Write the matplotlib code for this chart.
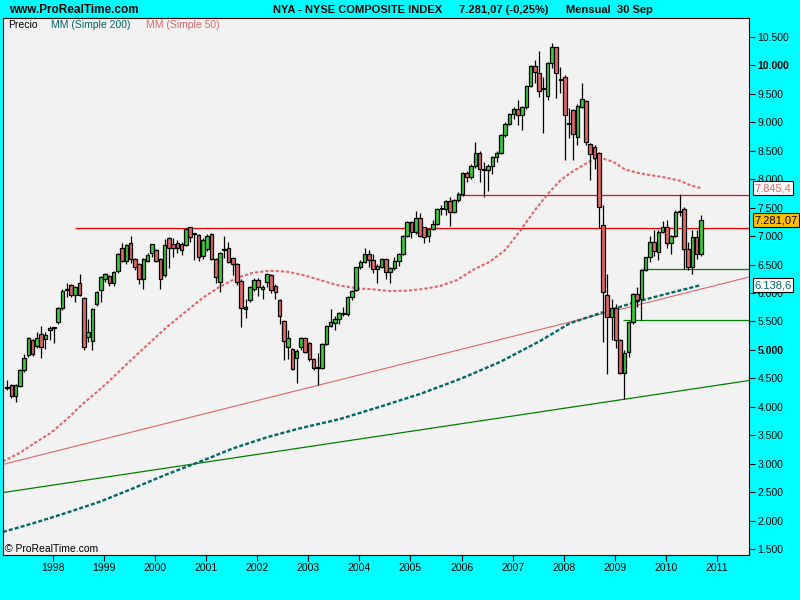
import matplotlib
matplotlib.use('Agg')
import matplotlib.pyplot as plt
import numpy as np

plt.rcParams['font.family'] = ['Liberation Sans', 'DejaVu Sans']

# monthly candles, Feb 1997 .. Sep 2010 (index 0 = Feb 1997)
start_year, start_month = 1997, 2
opens = [4325, 4377, 4196, 4360, 4641, 4905, 5174, 5075, 5274, 5186, 5344,
         5390, 5485, 5731, 6060, 6135, 5959, 6170, 5907, 5221, 5151, 5801, 6047,
         6252, 6293, 6170, 6381, 6785, 6557, 6873, 6592, 6504, 6241, 6557, 6698,
         6750, 6592, 6311, 6961, 6856, 6873, 6856, 6844, 7154, 7040, 7014, 6657,
         6768, 7031, 6598, 6199, 6760, 6785, 6610, 6504, 6211, 5713, 5877, 6065,
         6229, 6065, 6199, 6311, 6123, 5877, 5508, 5045, 5010, 4851, 5045, 5203,
         5115, 4834, 4680, 4687, 5103, 5420, 5478, 5537, 5635, 5625, 5935, 6053,
         6451, 6539, 6680, 6580, 6416, 6463, 6592, 6375, 6434, 6557, 6680, 7002,
         7242, 7066, 7312, 7154, 7002, 7125, 7207, 7470, 7476, 7617, 7418, 7629,
         7734, 8104, 8045, 8232, 8455, 8162, 8162, 8232, 8385, 8455, 8772, 8971,
         9141, 9240, 9123, 9264, 9639, 9990, 9861, 9590, 9463, 10037, 10318, 9768,
         9803, 8990, 9217, 8748, 9276, 9375, 8613, 8561, 8455, 7189, 5965, 5572,
         5730, 5174, 4588, 4957, 5484, 5976, 5888, 6404, 6627, 6890, 6715, 7078,
         7166, 6873, 7002, 7429, 7470, 6767, 6451, 6978, 6685]
highs = [4471, 4400, 4400, 4670, 4928, 5230, 5200, 5321, 5420, 5321, 5420,
         5410, 5750, 6065, 6170, 6150, 6120, 6334, 5930, 5543, 5730, 6030, 6300,
         6350, 6310, 6380, 6709, 6873, 6860, 7002, 6610, 6520, 6610, 6700, 6870,
         6780, 6610, 6944, 6980, 6960, 6940, 6900, 7137, 7160, 7060, 7040, 6960,
         7030, 7060, 6620, 6720, 7002, 6900, 6630, 6520, 6240, 5900, 6120, 6260,
         6260, 6140, 6350, 6330, 6160, 5900, 5530, 5350, 5030, 5010, 5220, 5230,
         5140, 4860, 4939, 5120, 5440, 5713, 5600, 5660, 5760, 5950, 6060, 6460,
         6580, 6785, 6760, 6680, 6510, 6620, 6610, 6460, 6630, 6700, 7020, 7260,
         7270, 7441, 7400, 7160, 7140, 7290, 7490, 7550, 7640, 7680, 7650, 7780,
         8130, 8150, 8260, 8648, 8500, 8308, 8260, 8400, 8500, 8790, 9000, 9160,
         9270, 9400, 9290, 9650, 10010, 10100, 10260, 9803, 10060, 10389, 10330, 9980,
         9830, 9250, 9240, 9320, 9700, 9400, 8640, 8600, 8480, 7547, 6328, 5900,
         5800, 5200, 5000, 5500, 6000, 6100, 6420, 6640, 7000, 7100, 7100, 7260,
         7280, 7020, 7460, 7740, 7520, 6900, 7100, 7100, 7371]
lows = [4295, 4150, 4079, 4340, 4620, 4880, 4900, 5040, 4864, 5010, 5174,
        5127, 5460, 5710, 5924, 5930, 5836, 5940, 5000, 5145, 5004, 5780, 5848,
        6200, 6123, 6123, 6360, 6540, 6504, 6522, 6400, 6153, 6065, 6540, 6639,
        6540, 6065, 6276, 6434, 6640, 6700, 6670, 6830, 6891, 6580, 6568, 6598,
        6740, 6580, 6170, 6024, 6610, 6520, 6316, 6140, 5409, 5560, 5850, 6040,
        5950, 5900, 6100, 6000, 5900, 5450, 4822, 4834, 4640, 4412, 5000, 4940,
        4800, 4640, 4383, 4660, 5080, 5400, 5350, 5450, 5600, 5600, 5880, 6030,
        6420, 6520, 6450, 6360, 6182, 6440, 6246, 6182, 6400, 6470, 6660, 6990,
        6960, 7040, 6990, 6885, 6900, 7100, 7190, 7380, 7380, 7178, 7400, 7600,
        7700, 7950, 8000, 8200, 7957, 7693, 7800, 8100, 8300, 8440, 8740, 8950,
        9050, 8950, 8870, 9240, 9620, 9700, 9450, 8807, 9400, 9950, 9430, 9510,
        8340, 8730, 8330, 8600, 9250, 8600, 7990, 8180, 7136, 5144, 4570, 5170,
        5030, 4570, 4137, 4880, 5450, 5750, 5525, 6380, 6540, 6650, 6580, 7050,
        6800, 6680, 6990, 7350, 6420, 6400, 6340, 6600, 6650]
closes = [4354, 4184, 4377, 4641, 4852, 5204, 4934, 5215, 5057, 5262, 5385,
          5400, 5731, 6036, 6071, 5959, 6100, 5959, 5045, 5309, 5713, 6012, 6276,
          6328, 6170, 6364, 6680, 6557, 6838, 6598, 6452, 6241, 6592, 6662, 6856,
          6557, 6241, 6838, 6785, 6785, 6785, 6750, 7119, 6990, 7050, 6639, 6932,
          7002, 6598, 6276, 6697, 6775, 6551, 6504, 6188, 5731, 5754, 6100, 6229,
          6100, 6100, 6328, 6053, 6011, 5601, 5162, 5203, 4670, 4986, 5203, 4968,
          4834, 4676, 4690, 5103, 5420, 5496, 5537, 5643, 5643, 5935, 6041, 6451,
          6539, 6680, 6580, 6416, 6475, 6592, 6375, 6434, 6557, 6680, 7002, 7242,
          7066, 7312, 7002, 6990, 7125, 7207, 7470, 7488, 7617, 7418, 7629, 7734,
          8104, 8045, 8232, 8455, 8174, 8170, 8232, 8385, 8455, 8772, 8971, 9141,
          9240, 9123, 9264, 9639, 9990, 9879, 9545, 9598, 10037, 10318, 9861, 9744,
          9123, 8971, 8789, 9293, 9404, 8649, 8437, 8367, 7518, 6023, 5572, 5730,
          5174, 4588, 4939, 5484, 5976, 5877, 6404, 6627, 6890, 6738, 7078, 7166,
          6873, 7002, 7429, 7447, 6767, 6451, 6978, 6685, 7281.07]

# moving averages (month index, value)
ma200_idx = [-1, 6.1, 14.0, 21.8, 29.6, 37.5, 45.3, 53.1, 61.0, 68.8, 78.2,
             87.6, 97.0, 106.4, 115.8, 125.2, 132.2, 139.9, 147.9, 155.7, 163]
ma200_val = [1800, 1952, 2138, 2332, 2567, 2813, 3035, 3270, 3464, 3622, 3785,
             4001, 4225, 4488, 4787, 5156, 5467, 5661, 5847, 6000, 6138.6]
ma50_idx = [-1, 3.0, 6.1, 10.1, 14.0, 17.9, 21.8, 24.2, 29.6, 37.5, 46.1, 50.0,
            53.9, 57.8, 61.7, 65.7, 69.6, 73.5, 77.4, 82.1, 85.9, 89.9, 93.9,
            97.7, 101.7, 105.7, 109.4, 113.4, 117.0, 120.5, 124.0, 127.0, 129.9,
            132.2, 135.0, 137.7, 139.7, 142.4, 145.1, 147.9, 151.0, 154.9, 158.0,
            160.8, 163]
ma50_val = [3040, 3193, 3346, 3534, 3780, 4061, 4307, 4471, 4857, 5402, 5924,
            6111, 6264, 6357, 6392, 6375, 6316, 6229, 6141, 6083, 6065, 6035,
            6041, 6070, 6123, 6229, 6404, 6550, 6756, 7090, 7459, 7740, 7974,
            8104, 8232, 8350, 8368, 8308, 8175, 8115, 8074, 8027, 7974, 7886,
            7845.4]

# drawn support / resistance lines
trend_red_idx, trend_red_val = [-1, 174.3], [2987, 6281]
trend_green_idx, trend_green_val = [-1, 174.3], [2492, 4462]
hline_red_val, hline_red_from = [7140, 7717], [15.9, 106.4]
hline_green_val, hline_green_from = [6417, 5520], [149.1, 144.7]

years = list(range(1998, 2012))

GREEN = '#38CC38'
RED = '#E06666'
TEAL = '#006666'

fig = plt.figure(figsize=(8, 6), dpi=100, facecolor='#00FFFF')
ax = fig.add_axes([3 / 800, 45 / 600, 746 / 800, 537 / 600])
ax.set_facecolor('#F2F2F2')
xmin, xmax = -0.98, 174.3
ax.set_xlim(xmin, xmax)
ax.set_ylim(1395, 10834)

x = np.arange(len(closes))
o = np.array(opens, dtype=float)
c = np.array(closes, dtype=float)
h = np.array(highs, dtype=float)
l = np.array(lows, dtype=float)

# trend lines and levels
ax.plot(trend_red_idx, trend_red_val, color=RED, lw=0.8, zorder=1)
ax.plot(trend_green_idx, trend_green_val, color='#008000', lw=0.9, zorder=1)
ax.hlines(hline_red_val, hline_red_from, xmax, color='#FF0000', lw=0.9, zorder=1)
ax.hlines(hline_green_val, hline_green_from, xmax, color='#008000', lw=0.9, zorder=1)

# moving averages
ax.plot(ma200_idx, ma200_val, color=TEAL, lw=1.7, ls=(0, (1.7, 0.9)),
        dash_capstyle='butt', zorder=2)
ax.plot(ma50_idx, ma50_val, color=RED, lw=1.5, ls=(0, (1.5, 1.0)),
        dash_capstyle='butt', zorder=2)

# candles
ax.vlines(x, l, h, color='black', lw=0.9, zorder=3)
up = c >= o
body_h = np.maximum(np.abs(c - o), 12)
ax.bar(x, body_h, bottom=np.minimum(o, c), width=0.84,
       color=np.where(up, GREEN, RED), edgecolor='black', linewidth=0.9, zorder=4)

# axes styling
for s in ax.spines.values():
    s.set_color('black')
    s.set_linewidth(0.8)
ax.yaxis.tick_right()
yt = np.arange(1500, 10501, 500)
ax.set_yticks(yt)
ax.set_yticklabels([f'{v:,}'.replace(',', '.') for v in yt])
for lab, v in zip(ax.get_yticklabels(), yt):
    if v % 5000 == 0:
        lab.set_fontweight('bold')
        lab.set_fontsize(9)
xt = [(yr - start_year) * 12 + 1 - start_month - 0.25 for yr in years]
ax.set_xticks(xt)
ax.set_xticklabels([str(yr) for yr in years])
ax.tick_params(axis='both', direction='out', length=4, width=0.8,
               labelsize=7.5, colors='black', pad=2)

# right-side value boxes
ytrans = ax.get_yaxis_transform()
box = dict(boxstyle='square,pad=0.15', ec='black', lw=0.8)
ax.text(1.007, ma50_val[-1], '7.845,4', transform=ytrans, va='center', ha='left',
        fontsize=8, color=RED, zorder=10, clip_on=False, bbox=dict(box, fc='white'))
ax.text(1.007, closes[-1], '7.281,07', transform=ytrans, va='center', ha='left',
        fontsize=8, color='black', zorder=10, clip_on=False, bbox=dict(box, fc='#FFBF00'))
ax.text(1.007, ma200_val[-1], '6.138,6', transform=ytrans, va='center', ha='left',
        fontsize=8, color=TEAL, zorder=10, clip_on=False, bbox=dict(box, fc='white'))

# header texts
def px(xp, yp):
    return xp / 800, 1 - yp / 600

fig.text(*px(9, 10), 'www.ProRealTime.com', fontsize=8.5, fontweight='bold', va='center')
fig.text(*px(273, 10), 'NYA - NYSE COMPOSITE INDEX', fontsize=8, fontweight='bold', va='center')
fig.text(*px(459, 10), '7.281,07 (-0,25%)', fontsize=8, fontweight='bold', va='center')
fig.text(*px(566, 10), 'Mensual  30 Sep', fontsize=8, fontweight='bold', va='center')
fig.text(*px(8, 25), 'Precio', fontsize=7.5, va='center')
fig.text(*px(51, 25), 'MM (Simple 200)', fontsize=7.5, color=TEAL, va='center')
fig.text(*px(146, 25), 'MM (Simple 50)', fontsize=7.5, color=RED, va='center')
fig.text(*px(5, 549), '\u00a9 ProRealTime.com', fontsize=7.5, va='center')

fig.savefig('out.png', dpi=100, facecolor=fig.get_facecolor())
